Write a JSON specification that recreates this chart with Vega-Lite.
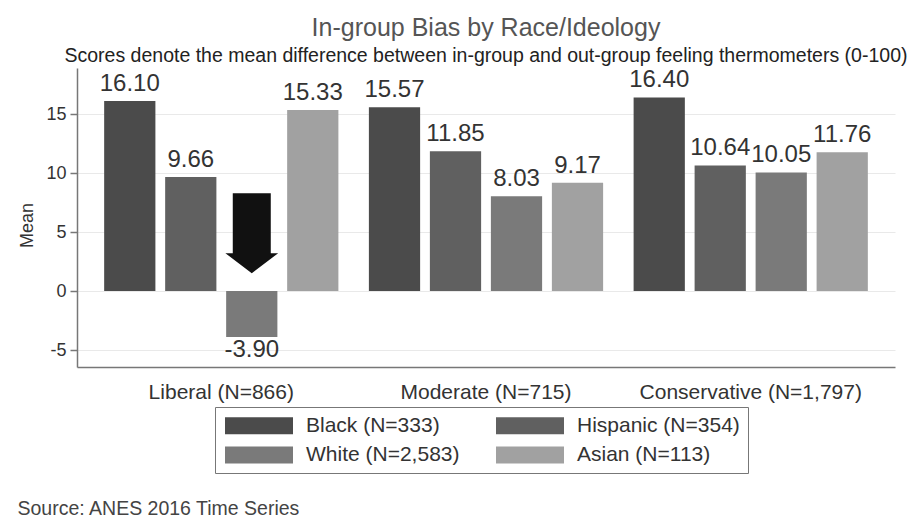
{
  "$schema": "https://vega.github.io/schema/vega-lite/v6.json",
  "width": 818,
  "height": 299,
  "autosize": {"type": "none"},
  "padding": {"left": 77, "top": 68, "right": 21, "bottom": 156},
  "background": "white",
  "config": {
    "view": {"stroke": null},
    "font": "Liberation Sans"
  },
  "title": {
    "text": "In-group Bias by Race/Ideology",
    "subtitle": "Scores denote the mean difference between in-group and out-group feeling thermometers (0-100)",
    "anchor": "middle",
    "frame": "group",
    "font": "Liberation Sans",
    "fontSize": 25,
    "fontWeight": "normal",
    "color": "#555555",
    "subtitleFont": "Liberation Sans",
    "subtitleFontSize": 19.5,
    "subtitleColor": "#222222",
    "subtitlePadding": 6,
    "offset": 3
  },
  "datasets": {
    "bars": [
      {"ideology": "Liberal (N=866)", "race": "Black (N=333)", "mean": 16.10},
      {"ideology": "Liberal (N=866)", "race": "Hispanic (N=354)", "mean": 9.66},
      {"ideology": "Liberal (N=866)", "race": "White (N=2,583)", "mean": -3.90},
      {"ideology": "Liberal (N=866)", "race": "Asian (N=113)", "mean": 15.33},
      {"ideology": "Moderate (N=715)", "race": "Black (N=333)", "mean": 15.57},
      {"ideology": "Moderate (N=715)", "race": "Hispanic (N=354)", "mean": 11.85},
      {"ideology": "Moderate (N=715)", "race": "White (N=2,583)", "mean": 8.03},
      {"ideology": "Moderate (N=715)", "race": "Asian (N=113)", "mean": 9.17},
      {"ideology": "Conservative (N=1,797)", "race": "Black (N=333)", "mean": 16.40},
      {"ideology": "Conservative (N=1,797)", "race": "Hispanic (N=354)", "mean": 10.64},
      {"ideology": "Conservative (N=1,797)", "race": "White (N=2,583)", "mean": 10.05},
      {"ideology": "Conservative (N=1,797)", "race": "Asian (N=113)", "mean": 11.76}
    ],
    "arrow": [
      {"ideology": "Liberal (N=866)", "race": "White (N=2,583)", "mean": 4.9}
    ]
  },
  "layer": [
    {
      "data": {"name": "bars"},
      "mark": {"type": "bar"},
      "encoding": {
        "x": {
          "field": "ideology", "type": "nominal", "sort": null,
          "scale": {"domain": ["Liberal (N=866)", "Moderate (N=715)", "Conservative (N=1,797)"], "paddingInner": 0, "paddingOuter": 0.045},
          "axis": {
            "labelAngle": 0, "ticks": false, "domainColor": "#777777", "domainWidth": 1.5,
            "labelFontSize": 21, "labelColor": "#333333", "labelPadding": 14, "labelLimit": 400,
            "title": "Source: ANES 2016 Time Series", "titleX": -60, "titleY": 147,
            "titleAlign": "left", "titleBaseline": "alphabetic", "titleFontSize": 19.5,
            "titleColor": "#444444", "titleFontWeight": "normal"
          }
        },
        "xOffset": {
          "field": "race", "type": "nominal", "sort": null,
          "scale": {"domain": ["Black (N=333)", "Hispanic (N=354)", "White (N=2,583)", "Asian (N=113)"], "paddingInner": 0.16, "paddingOuter": 0.25}
        },
        "y": {
          "field": "mean", "type": "quantitative",
          "scale": {"domain": [-6.44, 18.9], "nice": false, "zero": false},
          "axis": {
            "title": "Mean", "values": [-5, 0, 5, 10, 15], "grid": true, "gridColor": "#e9e9e9",
            "labelExpr": "replace(datum.label, '\u2212', '-')",
            "domainColor": "#777777", "domainWidth": 1.5, "tickColor": "#777777", "tickWidth": 1.5,
            "tickSize": 7, "labelFontSize": 18, "labelColor": "#333333", "labelPadding": 4,
            "titleFontSize": 18, "titleColor": "#333333", "titleFontWeight": "normal",
            "titlePadding": 9, "titleY": 157
          }
        },
        "color": {
          "field": "race", "type": "nominal", "sort": null,
          "scale": {
            "domain": ["Black (N=333)", "White (N=2,583)", "Hispanic (N=354)", "Asian (N=113)"],
            "range": ["#4b4b4b", "#7a7a7a", "#606060", "#a1a1a1"]
          },
          "legend": {
            "title": null, "orient": "none", "legendX": 138, "legendY": 339,
            "columns": 2, "columnPadding": 34, "rowPadding": 7.5, "padding": 8,
            "strokeColor": "#777777", "fillColor": "white",
            "symbolType": "M-1,-1H7V1H-1Z", "symbolSize": 289, "symbolStrokeWidth": 0,
            "symbolOpacity": 1, "labelOffset": 62, "labelFontSize": 21, "labelColor": "#333333",
            "labelLimit": 300, "gridAlign": "each"
          }
        }
      }
    },
    {
      "data": {"name": "bars"},
      "transform": [
        {"filter": "datum.mean >= 0"},
        {"calculate": "format(datum.mean, '.2f')", "as": "label"}
      ],
      "mark": {"type": "text", "baseline": "alphabetic", "dy": -10, "fontSize": 24, "color": "#333333"},
      "encoding": {
        "x": {"field": "ideology", "type": "nominal", "sort": null},
        "xOffset": {
          "field": "race", "type": "nominal", "sort": null,
          "scale": {"domain": ["Black (N=333)", "Hispanic (N=354)", "White (N=2,583)", "Asian (N=113)"], "paddingInner": 0.16, "paddingOuter": 0.25}
        },
        "y": {"field": "mean", "type": "quantitative"},
        "text": {"field": "label", "type": "nominal"}
      }
    },
    {
      "data": {"name": "bars"},
      "transform": [
        {"filter": "datum.mean < 0"},
        {"calculate": "'-' + format(abs(datum.mean), '.2f')", "as": "label"}
      ],
      "mark": {"type": "text", "baseline": "alphabetic", "dy": 20, "fontSize": 24, "color": "#333333"},
      "encoding": {
        "x": {"field": "ideology", "type": "nominal", "sort": null},
        "xOffset": {
          "field": "race", "type": "nominal", "sort": null,
          "scale": {"domain": ["Black (N=333)", "Hispanic (N=354)", "White (N=2,583)", "Asian (N=113)"], "paddingInner": 0.16, "paddingOuter": 0.25}
        },
        "y": {"field": "mean", "type": "quantitative"},
        "text": {"field": "label", "type": "nominal"}
      }
    },
    {
      "data": {"name": "arrow"},
      "mark": {
        "type": "point", "shape": "M-0.475,-1L0.475,-1L0.475,0.5L0.66,0.5L0,1L-0.66,0.5L-0.475,0.5Z",
        "size": 6400, "filled": true, "color": "#111111", "opacity": 1, "strokeWidth": 0
      },
      "encoding": {
        "x": {"field": "ideology", "type": "nominal", "sort": null},
        "xOffset": {
          "field": "race", "type": "nominal", "sort": null,
          "scale": {"domain": ["Black (N=333)", "Hispanic (N=354)", "White (N=2,583)", "Asian (N=113)"], "paddingInner": 0.16, "paddingOuter": 0.25}
        },
        "y": {"field": "mean", "type": "quantitative"}
      }
    }
  ]
}
